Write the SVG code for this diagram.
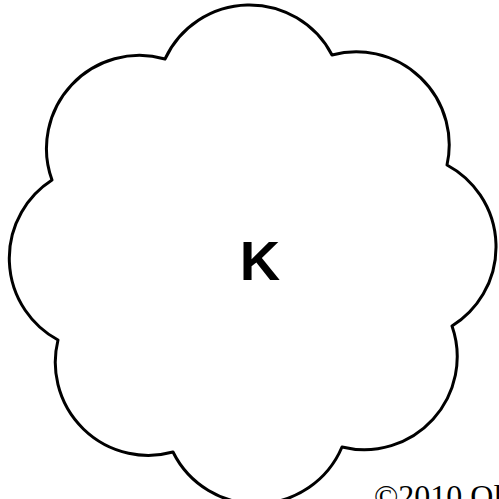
<svg xmlns="http://www.w3.org/2000/svg" width="499" height="499" viewBox="0 0 499 499">
  <style>
    .cloud { fill: #ffffff; stroke: #000000; stroke-width: 3; stroke-linejoin: round; }
    .label { font-family: "Liberation Sans", Arial, sans-serif; font-weight: bold; font-size: 56px; fill: #000000; }
    .copy { font-family: "Liberation Serif", "Times New Roman", serif; font-size: 32px; fill: #000000; }
  </style>
  <rect x="0" y="0" width="499" height="499" fill="#ffffff"/>
  <g id="cloud-node">
    <path class="cloud" d="M 165 59 A 93 93 0 0 1 332 55 A 93 93 0 0 1 447 165 A 93 93 0 0 1 452 326 A 93 93 0 0 1 342 447 A 93 93 0 0 1 173 452 A 93 93 0 0 1 58 340 A 93 93 0 0 1 52 180 A 93 93 0 0 1 165 59 Z"/>
    <text class="label" x="260" y="280" text-anchor="middle">K</text>
  </g>
  <g id="connectors"></g>
  <text class="copy" x="374" y="507">©2010 Ol</text>
</svg>
